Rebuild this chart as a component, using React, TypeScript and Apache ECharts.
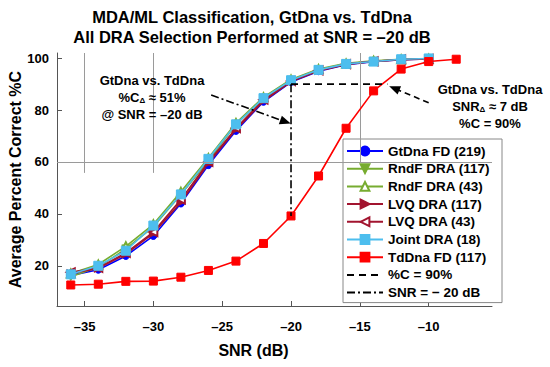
import React, { useEffect, useRef } from "react";
import * as echarts from "echarts";

const snr = [-36, -34, -32, -30, -28, -26, -24, -22, -20, -18, -16, -14, -12, -10];
const snrTd = [-36, -34, -32, -30, -28, -26, -24, -22, -20, -18, -16, -14, -12, -10, -8];

const gtdnaFD = [16.3, 18.5, 23.8, 31.5, 44.0, 58.8, 72.0, 83.2, 90.8, 95.0, 97.5, 98.6, 99.4, 99.7];
const rndf117 = [15.8, 19.5, 26.5, 35.0, 47.5, 60.5, 74.5, 84.5, 91.5, 95.5, 97.8, 98.8, 99.5, 99.8];
const rndf43 = [17.0, 20.5, 27.5, 36.0, 48.5, 61.5, 75.0, 85.0, 91.8, 95.8, 98.0, 99.0, 99.6, 99.8];
const lvq117 = [17.0, 19.0, 24.5, 32.5, 44.5, 59.5, 72.5, 83.5, 91.0, 95.2, 97.6, 98.7, 99.4, 99.7];
const lvq43 = [17.5, 19.2, 25.0, 33.0, 45.5, 60.0, 73.0, 84.0, 91.2, 95.3, 97.7, 98.8, 99.5, 99.7];
const joint18 = [16.7, 20.0, 25.8, 35.5, 47.5, 61.2, 74.5, 84.6, 91.5, 95.5, 97.8, 98.7, 99.6, 99.9];
const tdnaFD = [12.6, 12.9, 14.0, 14.1, 15.6, 18.2, 21.8, 28.6, 39.2, 54.6, 73.0, 87.4, 95.8, 98.7, 99.6];

const xTicks = [-35, -30, -25, -20, -15, -10];
const yTicks = [20, 40, 60, 80, 100];

const refC90 = [[-20, 90], [-13, 90]];
const refSnr20 = [[-20, 90], [-20, 39.2]];

const FONT = "'Liberation Sans', Arial, sans-serif";

const zip = (xs: number[], ys: number[]) => xs.map((x, i) => [x, ys[i]]);

export default function App() {
  const ref = useRef<HTMLDivElement>(null);
  useEffect(() => {
    if (!ref.current) return;
    document.body.style.margin = "0";
    const chart = echarts.init(ref.current, undefined, { renderer: "svg" });
    const mk = (
      name: string,
      xs: number[],
      ys: number[],
      color: string,
      symbol: string,
      size: number,
      rotate = 0,
      z = 2
    ) => ({
      name,
      type: "line",
      data: zip(xs, ys),
      symbol,
      symbolSize: size,
      symbolRotate: rotate,
      showAllSymbol: true,
      z,
      lineStyle: { color, width: 1.6 },
      itemStyle: { color, borderColor: color, borderWidth: 1 },
    });
    const gray = { color: "#9a9a9a", width: 1, type: "solid" as const };
    const rich = {
      a: { fontFamily: FONT, fontWeight: "bold" as const, fontSize: 13, lineHeight: 17, color: "#000" },
      s: { fontFamily: FONT, fontWeight: "bold" as const, fontSize: 8, lineHeight: 17, color: "#000", padding: [6, 0, 0, 0] },
    };
    chart.setOption({
      animation: false,
      backgroundColor: "#fff",
      title: {
        text: "MDA/ML Classification, GtDna vs. TdDna\nAll DRA Selection Performed at SNR = \u201320 dB",
        left: 247,
        top: 2,
        textAlign: "center",
        textStyle: { fontFamily: FONT, fontWeight: "bold", fontSize: 16.5, lineHeight: 20, color: "#000" },
      },
      grid: { left: 57, right: 58, top: 53, bottom: 61, containLabel: false, outerBoundsMode: "none" },
      xAxis: {
        type: "value",
        min: -37,
        max: -5.4,
        name: "SNR (dB)",
        nameLocation: "middle",
        nameGap: 36,
        nameTextStyle: { fontFamily: FONT, fontWeight: "bold", fontSize: 16, color: "#000", padding: [0, 42, 0, 0] },
        axisLine: { lineStyle: { color: "#555", width: 1 } },
        axisTick: { inside: true, length: 5, customValues: xTicks, lineStyle: { color: "#555" } },
        axisLabel: {
          customValues: xTicks,
          margin: 14,
          fontFamily: FONT,
          fontWeight: "bold",
          fontSize: 13,
          color: "#000",
          formatter: (v: number) => (v < 0 ? "\u2013" + Math.abs(v) : String(v)),
        },
        splitLine: { show: false },
      },
      yAxis: {
        type: "value",
        min: 4.5,
        max: 102,
        name: "Average Percent Correct %C",
        nameLocation: "middle",
        nameGap: 34,
        nameMoveOverlap: false,
        nameTextStyle: { fontFamily: FONT, fontWeight: "bold", fontSize: 16, color: "#000" },
        axisLine: { show: true, lineStyle: { color: "#555", width: 1 } },
        axisTick: { show: true, inside: true, length: 5, customValues: yTicks, lineStyle: { color: "#555" } },
        axisLabel: {
          customValues: yTicks,
          margin: 8,
          fontFamily: FONT,
          fontWeight: "bold",
          fontSize: 13,
          color: "#000",
        },
        splitLine: { show: false },
      },
      legend: {
        orient: "vertical",
        left: 343,
        top: 139,
        itemWidth: 36,
        itemHeight: 11,
        itemGap: 3.7,
        padding: [5, 12, 3, 3],
        backgroundColor: "#fff",
        borderColor: "#888",
        borderWidth: 1,
        borderRadius: 0,
        textStyle: { fontFamily: FONT, fontWeight: "bold", fontSize: 13.5, color: "#000", lineHeight: 13 },
        data: [
          "GtDna FD (219)",
          "RndF DRA (117)",
          "RndF DRA (43)",
          "LVQ DRA (117)",
          "LVQ DRA (43)",
          "Joint DRA (18)",
          "TdDna FD (117)",
          { name: "%C = 90%", itemStyle: { opacity: 0 } },
          { name: "SNR = \u2212 20 dB", itemStyle: { opacity: 0 } },
        ],
      },
      graphic: [
        {
          type: "text",
          x: 152,
          y: 72,
          z: 10,
          style: {
            text: "{a|GtDna vs. TdDna}\n{a|%C}{s|\u0394}{a| \u2248 51%}\n{a|@ SNR = \u201320 dB}",
            rich,
            align: "center",
            fill: "#000",
          },
        },
        {
          type: "text",
          x: 490,
          y: 81,
          z: 10,
          style: {
            text: "{a|GtDna vs. TdDna}\n{a|SNR}{s|\u0394}{a| \u2248 7 dB}\n{a|%C = 90%}",
            rich,
            align: "center",
            fill: "#000",
          },
        },
      ],
      series: [
        {
          name: "grid",
          type: "line",
          data: [],
          silent: true,
          z: 1,
          markLine: {
            silent: true,
            symbol: ["none", "none"],
            label: { show: false },
            lineStyle: gray,
            data: [
              [{ coord: [-35, 102] }, { coord: [-35, 55.8] }],
              [{ coord: [-30, 102] }, { coord: [-30, 55.8] }],
              [{ coord: [-15, 102] }, { coord: [-15, 60] }],
              [{ coord: [-37, 60] }, { coord: [-5.4, 60] }],
            ],
          },
        },
        mk("GtDna FD (219)", snr, gtdnaFD, "#0000ff", "circle", 7, 0, 3),
        mk("RndF DRA (117)", snr, rndf117, "#77ac30", "triangle", 8, 180, 3),
        mk("RndF DRA (43)", snr, rndf43, "#77ac30", "emptyTriangle", 8, 0, 3),
        mk("LVQ DRA (117)", snr, lvq117, "#a2142f", "triangle", 8, -90, 3),
        mk("LVQ DRA (43)", snr, lvq43, "#a2142f", "emptyTriangle", 8, 90, 3),
        mk("Joint DRA (18)", snr, joint18, "#4dbeee", "rect", 9, 0, 4),
        mk("TdDna FD (117)", snrTd, tdnaFD, "#ff0000", "rect", 8, 0, 5),
        {
          name: "%C = 90%",
          type: "line",
          data: refC90,
          symbol: "none",
          z: 6,
          lineStyle: { color: "#000", width: 1.6, type: [7, 5] },
          itemStyle: { color: "#000" },
        },
        {
          name: "SNR = \u2212 20 dB",
          type: "line",
          data: refSnr20,
          symbol: "none",
          z: 6,
          lineStyle: { color: "#000", width: 1.6, type: [8, 3, 2, 3] },
          itemStyle: { color: "#000" },
        },
        {
          name: "arrows",
          type: "line",
          data: [],
          silent: true,
          z: 7,
          markLine: {
            silent: true,
            label: { show: false },
            symbol: ["none", "triangle"],
            symbolSize: [9, 11],
            data: [
              [
                { coord: [-25.8, 85.8], lineStyle: { color: "#000", width: 1.6, type: [8, 3, 2, 3] }, itemStyle: { color: "#000" } },
                { coord: [-20.4, 75.5] },
              ],
              [
                { coord: [-10.0, 82.8], lineStyle: { color: "#000", width: 1.6, type: [6, 4] }, itemStyle: { color: "#000" } },
                { coord: [-12.5, 88.4] },
              ],
            ],
          },
        },
      ],
    });
    return () => chart.dispose();
  }, []);
  return <div ref={ref} style={{ width: 550, height: 367 }} />;
}
